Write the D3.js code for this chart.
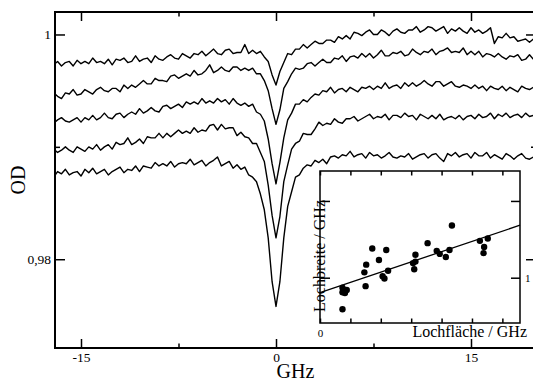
<!DOCTYPE html>
<html>
<head>
<meta charset="utf-8">
<script src="https://cdn.jsdelivr.net/npm/d3@7/dist/d3.min.js"></script>
<style>
  body { margin:0; background:#fff; }
  svg { display:block; }
</style>
</head>
<body>
<script>
const ghzStart = -17.1, ghzStep = 0.3;

const trace1 = [
  0.9973,0.9976,0.9972,0.9975,0.9976,0.9972,0.9977,0.9974,0.9976,0.9974,
  0.9979,0.9975,0.9976,0.9974,0.9978,0.9973,0.9978,0.9977,0.9979,0.9975,
  0.9976,0.9981,0.9976,0.9978,0.9979,0.9975,0.9981,0.9978,0.9977,0.9980,
  0.9982,0.9979,0.9978,0.9983,0.9981,0.9979,0.9983,0.9982,0.9985,0.9981,
  0.9984,0.9987,0.9983,0.9982,0.9986,0.9987,0.9983,0.9984,0.9984,0.9991,
  0.9983,0.9986,0.9983,0.9985,0.9980,0.9976,0.9964,0.9955,0.9967,0.9975,
  0.9983,0.9982,0.9987,0.9987,0.9991,0.9988,0.9991,0.9994,0.9992,0.9992,
  0.9995,0.9995,0.9993,0.9998,0.9996,0.9999,0.9996,1.0002,1.0001,0.9999,
  1.0002,1.0004,1.0000,1.0000,1.0004,1.0002,0.9999,1.0003,1.0005,1.0002,
  1.0001,1.0004,1.0004,1.0007,1.0002,1.0004,1.0007,1.0006,1.0003,1.0005,
  1.0007,1.0001,1.0005,1.0003,1.0006,1.0003,1.0001,1.0006,1.0002,1.0004,
  1.0001,1.0003,1.0006,0.9992,0.9998,0.9997,1.0001,0.9997,0.9998,0.9994,
  0.9995,0.9996,0.9993,0.9996
];
const trace2 = [
  0.9948,0.9945,0.9943,0.9948,0.9947,0.9951,0.9946,0.9947,0.9951,0.9949,
  0.9947,0.9951,0.9953,0.9950,0.9949,0.9952,0.9952,0.9949,0.9955,0.9952,
  0.9955,0.9953,0.9956,0.9959,0.9956,0.9956,0.9961,0.9959,0.9959,0.9958,
  0.9963,0.9964,0.9961,0.9963,0.9965,0.9963,0.9968,0.9964,0.9965,0.9968,
  0.9973,0.9966,0.9968,0.9971,0.9968,0.9967,0.9971,0.9971,0.9968,0.9970,
  0.9968,0.9970,0.9965,0.9965,0.9959,0.9950,0.9934,0.9920,0.9933,0.9952,
  0.9958,0.9965,0.9970,0.9969,0.9970,0.9974,0.9975,0.9972,0.9975,0.9978,
  0.9975,0.9975,0.9979,0.9978,0.9981,0.9976,0.9980,0.9981,0.9979,0.9983,
  0.9980,0.9983,0.9979,0.9982,0.9986,0.9981,0.9981,0.9984,0.9983,0.9985,
  0.9981,0.9982,0.9987,0.9984,0.9982,0.9985,0.9984,0.9987,0.9982,0.9985,
  0.9986,0.9988,0.9984,0.9985,0.9984,0.9988,0.9982,0.9985,0.9982,0.9985,
  0.9980,0.9983,0.9982,0.9980,0.9983,0.9980,0.9978,0.9981,0.9980,0.9982,
  0.9977,0.9978,0.9982,0.9978
];
const trace3 = [
  0.9921,0.9924,0.9926,0.9923,0.9922,0.9924,0.9926,0.9922,0.9926,0.9924,
  0.9928,0.9924,0.9926,0.9930,0.9926,0.9925,0.9929,0.9930,0.9926,0.9929,
  0.9931,0.9929,0.9934,0.9930,0.9932,0.9935,0.9932,0.9931,0.9936,0.9937,
  0.9934,0.9936,0.9938,0.9935,0.9940,0.9938,0.9940,0.9938,0.9943,0.9939,
  0.9941,0.9939,0.9943,0.9940,0.9942,0.9938,0.9943,0.9939,0.9937,0.9939,
  0.9936,0.9938,0.9931,0.9929,0.9923,0.9907,0.9885,0.9867,0.9886,0.9908,
  0.9924,0.9930,0.9938,0.9938,0.9942,0.9940,0.9944,0.9947,0.9946,0.9950,
  0.9949,0.9953,0.9948,0.9951,0.9952,0.9949,0.9953,0.9951,0.9949,0.9953,
  0.9952,0.9954,0.9951,0.9954,0.9952,0.9957,0.9952,0.9954,0.9955,0.9952,
  0.9957,0.9954,0.9957,0.9954,0.9956,0.9959,0.9956,0.9954,0.9958,0.9958,
  0.9954,0.9956,0.9958,0.9954,0.9953,0.9955,0.9954,0.9952,0.9955,0.9952,
  0.9954,0.9950,0.9954,0.9952,0.9951,0.9954,0.9950,0.9953,0.9951,0.9949,
  0.9954,0.9952,0.9951,0.9953
];
const trace4 = [
  0.9898,0.9895,0.9897,0.9900,0.9897,0.9895,0.9900,0.9898,0.9896,0.9900,
  0.9898,0.9902,0.9897,0.9900,0.9902,0.9898,0.9904,0.9902,0.9903,0.9908,
  0.9902,0.9904,0.9907,0.9903,0.9909,0.9908,0.9908,0.9912,0.9908,0.9912,
  0.9909,0.9912,0.9915,0.9912,0.9914,0.9912,0.9917,0.9913,0.9915,0.9914,
  0.9919,0.9920,0.9915,0.9920,0.9916,0.9917,0.9917,0.9910,0.9913,0.9909,
  0.9908,0.9903,0.9903,0.9895,0.9887,0.9866,0.9839,0.9819,0.9838,0.9869,
  0.9884,0.9898,0.9903,0.9905,0.9912,0.9911,0.9911,0.9916,0.9922,0.9919,
  0.9921,0.9920,0.9925,0.9922,0.9921,0.9925,0.9925,0.9927,0.9923,0.9925,
  0.9927,0.9929,0.9925,0.9927,0.9926,0.9929,0.9924,0.9928,0.9928,0.9926,
  0.9930,0.9927,0.9928,0.9924,0.9929,0.9927,0.9925,0.9928,0.9925,0.9929,
  0.9924,0.9926,0.9927,0.9925,0.9928,0.9924,0.9927,0.9928,0.9925,0.9929,
  0.9926,0.9927,0.9930,0.9925,0.9929,0.9927,0.9930,0.9926,0.9928,0.9929,
  0.9926,0.9930,0.9927,0.9928
];
const trace5 = [
  0.9873,0.9878,0.9876,0.9880,0.9875,0.9877,0.9878,0.9874,0.9880,0.9877,
  0.9881,0.9876,0.9878,0.9880,0.9875,0.9878,0.9880,0.9882,0.9877,0.9880,
  0.9879,0.9883,0.9878,0.9883,0.9882,0.9881,0.9886,0.9883,0.9885,0.9883,
  0.9887,0.9882,0.9885,0.9886,0.9885,0.9889,0.9884,0.9886,0.9888,0.9883,
  0.9886,0.9888,0.9891,0.9883,0.9885,0.9887,0.9881,0.9884,0.9880,0.9882,
  0.9875,0.9873,0.9869,0.9858,0.9844,0.9819,0.9780,0.9758,0.9780,0.9819,
  0.9847,0.9860,0.9873,0.9875,0.9881,0.9884,0.9883,0.9888,0.9886,0.9889,
  0.9885,0.9891,0.9892,0.9890,0.9893,0.9892,0.9896,0.9891,0.9893,0.9894,
  0.9890,0.9895,0.9892,0.9893,0.9890,0.9892,0.9895,0.9891,0.9890,0.9892,
  0.9891,0.9894,0.9889,0.9891,0.9893,0.9894,0.9890,0.9893,0.9894,0.9890,
  0.9887,0.9894,0.9892,0.9895,0.9891,0.9893,0.9894,0.9890,0.9895,0.9892,
  0.9892,0.9895,0.9890,0.9893,0.9891,0.9889,0.9894,0.9892,0.9889,0.9892,
  0.9894,0.9890,0.9889,0.9891
];

const xMajor = [-15, 0, 15];
const xMinor = [-7.5, 7.5];
const yMajor = [0.98, 1];
const yMinor = [0.99];

// inset: hole width against hole area
const holeArea = [3.7, 3.7, 4.1, 4.4, 4.1, 3.7, 7.3, 7.6, 7.5, 8.6, 9.7, 10.3, 10.6, 10.9, 11.2,
  15.3, 15.7, 15.5, 15.7, 17.7, 19.2, 19.7, 20.7, 21.3, 21.7, 26.3, 27.0, 26.9, 27.6];
const holeWidth = [0.87, 0.81, 0.83, 0.84, 0.80, 0.59, 1.07, 1.17, 0.89, 1.38, 1.23, 1.02, 0.99, 1.36, 1.09,
  1.19, 1.30, 1.11, 1.21, 1.45, 1.35, 1.31, 1.27, 1.36, 1.68, 1.48, 1.40, 1.32, 1.51];
const fitArea = [0, 32.9];
const fitWidth = [0.805, 1.684];
const insetXTicks = [0, 5, 10, 15, 20, 25, 30];
const insetYTicks = [1, 2];

const serif = '"Liberation Serif", "Times New Roman", serif';

const svg = d3.select('body').append('svg')
    .attr('width', 533)
    .attr('height', 383)
    .attr('font-family', serif);

const plot = {left: 55, right: 536, top: 12, bottom: 348};
const x = d3.scaleLinear().domain([-17, 20]).range([plot.left, plot.right]);
const y = d3.scaleLinear().domain([0.9721, 1.002]).range([plot.bottom, plot.top]);

svg.append('clipPath').attr('id', 'plotclip')
  .append('rect')
    .attr('x', plot.left).attr('y', plot.top)
    .attr('width', plot.right - plot.left).attr('height', plot.bottom - plot.top);

const line = d3.line()
    .x((d, i) => x(ghzStart + i * ghzStep))
    .y(d => y(d));

svg.append('g').attr('clip-path', 'url(#plotclip)')
  .selectAll('path')
  .data([trace1, trace2, trace3, trace4, trace5])
  .enter().append('path')
    .attr('d', line)
    .attr('fill', 'none')
    .attr('stroke', '#000')
    .attr('stroke-width', 1.4)
    .attr('stroke-linejoin', 'round');

const odFormat = d3.formatLocale({decimal: ',', thousands: '.', grouping: [3], currency: ['', '']}).format('.2~f');

function styleAxis(g, size) {
  g.select('.domain').remove();
  g.attr('font-family', serif).attr('font-size', size);
  g.selectAll('line').attr('stroke', '#000').attr('stroke-width', 1.5);
  g.selectAll('text').attr('fill', '#000');
}

// main axes, ticks pointing inward
svg.append('g').attr('transform', `translate(0,${plot.bottom})`)
  .call(d3.axisBottom(x).tickValues(xMajor).tickSizeInner(-9).tickSizeOuter(0)
    .tickPadding(4).tickFormat(d => String(d)))
  .call(g => styleAxis(g, 13.5));
svg.append('g').attr('transform', `translate(0,${plot.bottom})`)
  .call(d3.axisBottom(x).tickValues(xMinor).tickSizeInner(-4.5).tickSizeOuter(0).tickFormat(''))
  .call(g => styleAxis(g, 13.5));
svg.append('g').attr('transform', `translate(0,${plot.top})`)
  .call(d3.axisTop(x).tickValues(xMajor).tickSizeInner(-9).tickSizeOuter(0).tickFormat(''))
  .call(g => styleAxis(g, 13.5));
svg.append('g').attr('transform', `translate(0,${plot.top})`)
  .call(d3.axisTop(x).tickValues(xMinor).tickSizeInner(-4.5).tickSizeOuter(0).tickFormat(''))
  .call(g => styleAxis(g, 13.5));

svg.append('g').attr('transform', `translate(${plot.left},0)`)
  .call(d3.axisLeft(y).tickValues(yMajor).tickSizeInner(-10).tickSizeOuter(0)
    .tickPadding(4).tickFormat(odFormat))
  .call(g => styleAxis(g, 13.5));
svg.append('g').attr('transform', `translate(${plot.left},0)`)
  .call(d3.axisLeft(y).tickValues(yMinor).tickSizeInner(-5).tickSizeOuter(0).tickFormat(''))
  .call(g => styleAxis(g, 13.5));
svg.append('g').attr('transform', `translate(${plot.right},0)`)
  .call(d3.axisRight(y).tickValues(yMajor).tickSizeInner(-10).tickSizeOuter(0).tickFormat(''))
  .call(g => styleAxis(g, 13.5));
svg.append('g').attr('transform', `translate(${plot.right},0)`)
  .call(d3.axisRight(y).tickValues(yMinor).tickSizeInner(-5).tickSizeOuter(0).tickFormat(''))
  .call(g => styleAxis(g, 13.5));

svg.append('rect')
    .attr('x', plot.left).attr('y', plot.top)
    .attr('width', plot.right - plot.left).attr('height', plot.bottom - plot.top)
    .attr('fill', 'none').attr('stroke', '#000').attr('stroke-width', 2);

svg.append('text')
    .attr('x', (plot.left + plot.right) / 2).attr('y', 378)
    .attr('text-anchor', 'middle').attr('font-size', 20)
    .text('GHz');
svg.append('text')
    .attr('transform', `translate(25,${(plot.top + plot.bottom) / 2}) rotate(-90)`)
    .attr('text-anchor', 'middle').attr('font-size', 20)
    .text('OD');

// inset
const inset = {left: 320, right: 520, top: 171, bottom: 323};
const ix = d3.scaleLinear().domain([0, 32.9]).range([inset.left, inset.right]);
const iy = d3.scaleLinear().domain([0.41, 2.39]).range([inset.bottom, inset.top]);

svg.append('rect')
    .attr('x', inset.left).attr('y', inset.top)
    .attr('width', inset.right - inset.left).attr('height', inset.bottom - inset.top)
    .attr('fill', '#fff');

svg.append('g').attr('transform', `translate(0,${inset.bottom})`)
  .call(d3.axisBottom(ix).tickValues(insetXTicks).tickSizeInner(-4.5).tickSizeOuter(0)
    .tickPadding(6).tickFormat(d => d === 0 ? '0' : ''))
  .call(g => styleAxis(g, 11));
svg.append('g').attr('transform', `translate(0,${inset.top})`)
  .call(d3.axisTop(ix).tickValues(insetXTicks).tickSizeInner(-4.5).tickSizeOuter(0).tickFormat(''))
  .call(g => styleAxis(g, 11));
svg.append('g').attr('transform', `translate(${inset.left},0)`)
  .call(d3.axisLeft(iy).tickValues(insetYTicks).tickSizeInner(-10).tickSizeOuter(0).tickFormat(''))
  .call(g => styleAxis(g, 11));
svg.append('g').attr('transform', `translate(${inset.right},0)`)
  .call(d3.axisRight(iy).tickValues(insetYTicks).tickSizeInner(-9).tickSizeOuter(0)
    .tickPadding(5).tickFormat(d => d === 1 ? '1' : ''))
  .call(g => styleAxis(g, 11));

svg.append('line')
    .attr('x1', ix(fitArea[0])).attr('y1', iy(fitWidth[0]))
    .attr('x2', ix(fitArea[1])).attr('y2', iy(fitWidth[1]))
    .attr('stroke', '#000').attr('stroke-width', 1.3);

svg.append('g').selectAll('circle')
  .data(holeArea)
  .enter().append('circle')
    .attr('cx', d => ix(d))
    .attr('cy', (d, i) => iy(holeWidth[i]))
    .attr('r', 3.2)
    .attr('fill', '#000');

svg.append('rect')
    .attr('x', inset.left).attr('y', inset.top)
    .attr('width', inset.right - inset.left).attr('height', inset.bottom - inset.top)
    .attr('fill', 'none').attr('stroke', '#000').attr('stroke-width', 1.5);

svg.append('text')
    .attr('x', 527).attr('y', 337)
    .attr('text-anchor', 'end').attr('font-size', 16)
    .text('Lochfläche / GHz');
svg.append('text')
    .attr('transform', `translate(325,256) rotate(-90)`)
    .attr('text-anchor', 'middle').attr('font-size', 16)
    .text('Lochbreite / GHz');
</script>
</body>
</html>
